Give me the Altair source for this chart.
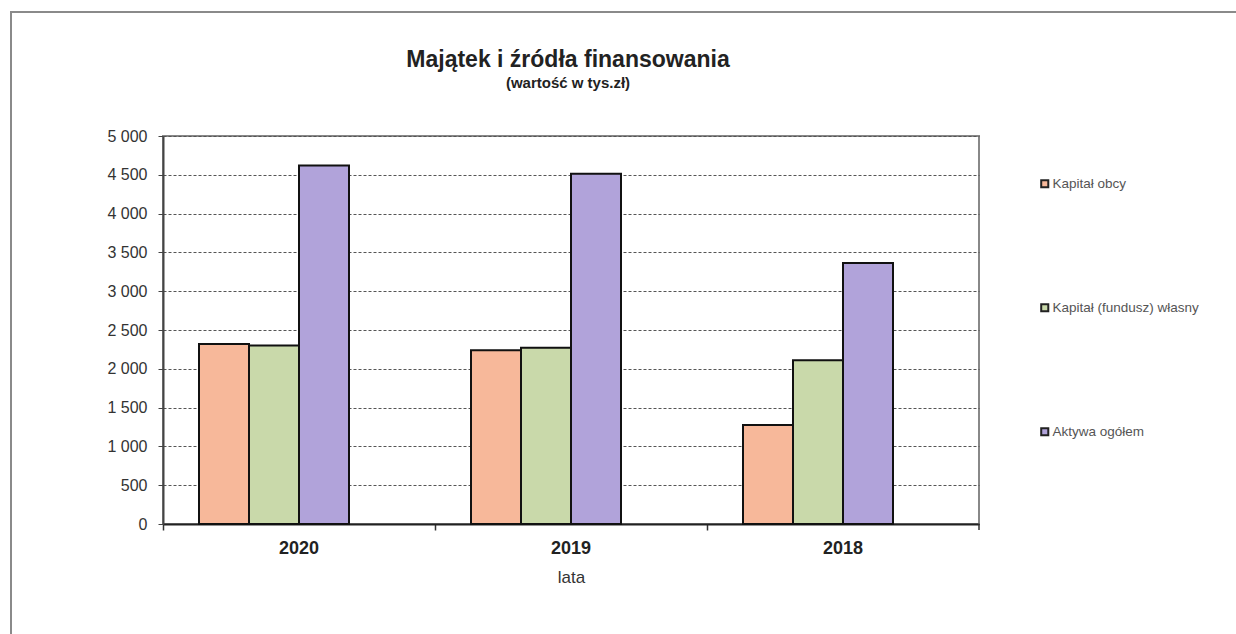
import altair as alt
import pandas as pd

# Values in thousands of zloty
years = ["2020", "2019", "2018"]
series = ["Kapitał obcy", "Kapitał (fundusz) własny", "Aktywa ogółem"]
kapital_obcy = [2320, 2240, 1275]
kapital_wlasny = [2300, 2270, 2110]
aktywa_ogolem = [4620, 4515, 3365]
colors = ["#F7B89A", "#C9D9AA", "#B1A3DA"]
y_ticks = [0, 500, 1000, 1500, 2000, 2500, 3000, 3500, 4000, 4500, 5000]
title_text = "Majątek i źródła finansowania"
subtitle_text = "(wartość w tys.zł)"

rows = []
for i, year in enumerate(years):
    for name, vals in zip(series, [kapital_obcy, kapital_wlasny, aktywa_ogolem]):
        rows.append({"rok": year, "seria": name, "wartosc": vals[i]})
df = pd.DataFrame(rows)

W, H = 816, 388
LEFT, TOP = 163, 136
FONT = "Liberation Sans"

bars = alt.Chart(df).mark_bar(stroke="#111111", strokeWidth=2).encode(
    x=alt.X(
        "rok:N",
        sort=years,
        title="lata",
        scale=alt.Scale(paddingInner=0, paddingOuter=0),
        axis=alt.Axis(
            labelAngle=0,
            labelFont=FONT,
            labelFontSize=18,
            labelFontWeight="bold",
            labelColor="#222222",
            labelPadding=9,
            tickSize=6,
            tickColor="#333333",
            tickWidth=1.5,
            bandPosition=0,
            domainColor="#222222",
            domainWidth=2,
            grid=False,
            titleFont=FONT,
            titleFontSize=17,
            titleFontWeight="normal",
            titleColor="#333333",
            titlePadding=12,
        ),
    ),
    xOffset=alt.XOffset(
        "seria:N",
        scale=alt.Scale(domain=series + [" "], paddingInner=0, paddingOuter=0.72),
    ),
    y=alt.Y(
        "wartosc:Q",
        title=None,
        scale=alt.Scale(domain=[0, 5000], nice=False),
        axis=alt.Axis(
            values=y_ticks,
            labelExpr="replace(format(datum.value, ','), ',', ' ')",
            labelFont=FONT,
            labelFontSize=16,
            labelColor="#333333",
            labelPadding=11,
            tickSize=5,
            tickColor="#444444",
            domainColor="#444444",
            domainWidth=2,
            grid=True,
            gridColor="#555555",
            gridDash=[3, 2],
            gridWidth=1,
        ),
    ),
    color=alt.Color(
        "seria:N",
        scale=alt.Scale(domain=series, range=colors),
        legend=alt.Legend(
            title=None,
            orient="none",
            legendX=875,
            legendY=41,
            symbolType="square",
            symbolSize=50,
            symbolStrokeColor="#222222",
            symbolStrokeWidth=2,
            labelFont=FONT,
            labelFontSize=13.5,
            labelColor="#555555",
            labelOffset=1,
            rowPadding=108,
        ),
    ),
)

# closing tick at the right end of the category axis
end_tick = alt.Chart(alt.Data(values=[{}])).mark_rule(
    color="#333333", strokeWidth=1.5
).encode(x=alt.value(W), y=alt.value(H), y2=alt.value(H + 6))

# chart heading and subheading
heading = alt.Chart(alt.Data(values=[{"t": title_text}])).mark_text(
    font=FONT, fontSize=23, fontWeight="bold", color="#222222", baseline="middle"
).encode(text="t:N", x=alt.value(405), y=alt.value(-76))

subheading = alt.Chart(alt.Data(values=[{"t": subtitle_text}])).mark_text(
    font=FONT, fontSize=15, fontWeight="bold", color="#222222", baseline="middle"
).encode(text="t:N", x=alt.value(405), y=alt.value(-53))

# thin frame around the whole chart
frame = alt.Chart(alt.Data(values=[{}])).mark_rect(
    fill=None, stroke="#8a8a8a", strokeWidth=2
).encode(
    x=alt.value(-152), y=alt.value(-124), x2=alt.value(1090), y2=alt.value(510)
)

chart = (
    alt.layer(bars, end_tick, heading, subheading, frame)
    .properties(
        width=W,
        height=H,
        padding={
            "left": LEFT,
            "top": TOP,
            "right": 1236 - LEFT - W,
            "bottom": 634 - TOP - H,
        },
        autosize=alt.AutoSizeParams(type="none"),
        background="white",
    )
    .configure_view(stroke="#888888", strokeWidth=2)
)

chart.save("out.html", embed_options={"renderer": "svg", "actions": False})
